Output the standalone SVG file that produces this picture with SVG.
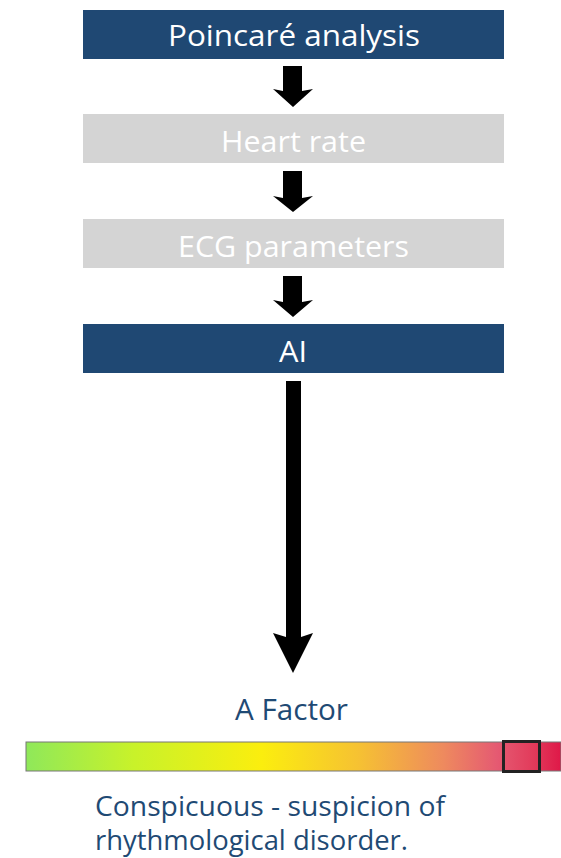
<svg xmlns="http://www.w3.org/2000/svg" width="561" height="858" viewBox="0 0 561 858">
<defs>
<style>
.dark{fill:#1f4873;}
.gray{fill:#d4d4d4;}
.lbl{font-family:"Open Sans","Liberation Sans",sans-serif;font-size:29px;fill:#ffffff;text-anchor:middle;}
.blue{font-family:"Open Sans","Liberation Sans",sans-serif;fill:#1f4a74;}
.arr{fill:#000000;}
</style>
<linearGradient id="g" x1="0" y1="0" x2="1" y2="0">
<stop offset="0" stop-color="#8fe85a"/>
<stop offset="0.2" stop-color="#c8f22a"/>
<stop offset="0.44" stop-color="#fbee0e"/>
<stop offset="0.62" stop-color="#f6c232"/>
<stop offset="0.78" stop-color="#ee8a5e"/>
<stop offset="0.88" stop-color="#e55a72"/>
<stop offset="0.95" stop-color="#e23a5a"/>
<stop offset="1" stop-color="#df1848"/>
</linearGradient>
</defs>
<rect width="561" height="858" fill="#ffffff"/>
<g id="n-poincare">
<rect class="dark" x="83" y="10" width="421" height="49"/>
<text class="lbl" x="294" y="46" textLength="252" lengthAdjust="spacingAndGlyphs">Poincaré analysis</text>
</g>
<g id="n-heart">
<rect class="gray" x="83" y="114" width="421" height="49"/>
<text class="lbl" x="293.5" y="152" textLength="145" lengthAdjust="spacingAndGlyphs">Heart rate</text>
</g>
<g id="n-ecg">
<rect class="gray" x="83" y="219" width="421" height="49"/>
<text class="lbl" x="293.5" y="257" textLength="231" lengthAdjust="spacingAndGlyphs">ECG parameters</text>
</g>
<g id="n-ai">
<rect class="dark" x="83" y="324" width="421" height="49"/>
<text class="lbl" x="293" y="362" textLength="28" lengthAdjust="spacingAndGlyphs">AI</text>
</g>
<g id="connectors">
<polygon class="arr" points="283,66 302,66 302,91 313,89 293,107 273,89 283,91"/>
<polygon class="arr" points="283,171 302,171 302,198 313,196 293,212 273,196 283,198"/>
<polygon class="arr" points="283,276 302,276 302,302 313,300 293,317 273,300 283,302"/>
<polygon class="arr" points="286,381 301,381 301,637 313,633 293,673 273,633 286,637"/>
</g>
<g id="n-afactor">
<text class="blue" x="291.5" y="720" font-size="30" text-anchor="middle" textLength="113" lengthAdjust="spacingAndGlyphs">A Factor</text>
<rect x="26" y="742" width="535" height="29" fill="url(#g)" stroke="#777777" stroke-width="1"/>
<rect x="503.5" y="741.5" width="36" height="30" fill="none" stroke="#222222" stroke-width="3"/>
<text class="blue" x="95" y="816" font-size="27" textLength="350" lengthAdjust="spacingAndGlyphs">Conspicuous - suspicion of</text>
<text class="blue" x="95" y="850" font-size="27" textLength="313" lengthAdjust="spacingAndGlyphs">rhythmological disorder.</text>
</g>
</svg>
